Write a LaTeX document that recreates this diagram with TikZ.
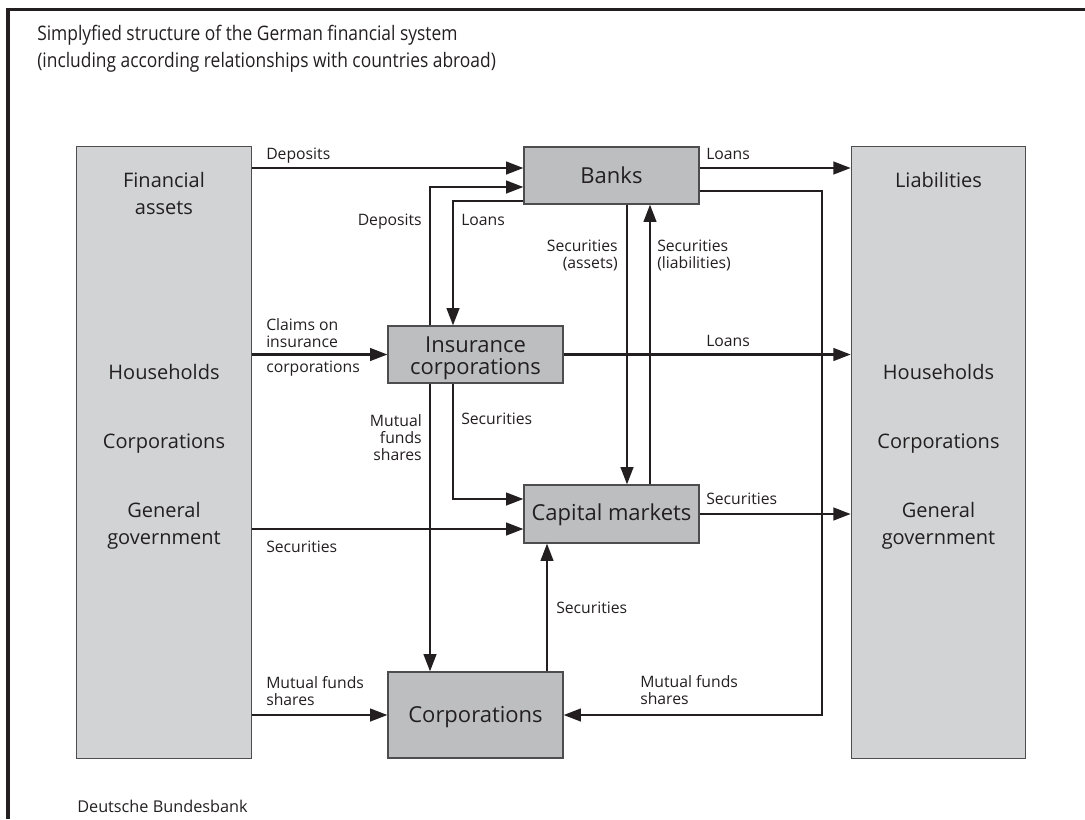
\documentclass[tikz,border=0pt]{standalone}
\usepackage{fontspec}
\setmainfont{Open Sans}
\newfontfamily\titlefont[FakeStretch=0.87]{Open Sans}
\usetikzlibrary{arrows.meta}

\definecolor{textgray}{HTML}{231F20}
\definecolor{sidefill}{HTML}{D1D3D4}
\definecolor{boxfill}{HTML}{BCBEC0}
\definecolor{boxline}{HTML}{4D4D4F}

\tikzstyle{sector} = [draw=boxline,line width=0.9pt,fill=sidefill,minimum width=130.8pt,minimum height=459pt,inner sep=0pt]
\tikzstyle{sectortext} = [font=\fontsize{15}{20}\selectfont,text=textgray,align=center,inner sep=0pt]
\tikzstyle{institution} = [draw=boxline,line width=0.9pt,fill=boxfill,minimum width=131.25pt,inner sep=0pt]
\tikzstyle{institutiontext} = [font=\fontsize{16.5}{16.5}\selectfont,text=textgray,align=center,inner sep=0pt]
\tikzstyle{flowlabel} = [font=\fontsize{11.8}{12.6}\selectfont,text=textgray,inner sep=0pt]
\tikzstyle{arrowdecorate} = [draw=textgray,line width=1.7pt,-{Triangle[length=13pt,width=9.5pt]}]

\begin{document}
\begin{tikzpicture}[x=0.75pt,y=-0.75pt]
    \useasboundingbox (0,0) rectangle (1085,819);
    %% frame and title
    \draw[textgray,line width=2.6pt] (8,819) -- (8,9.5) -- (1085,9.5);
    \node[anchor=base west,inner sep=0pt,text=textgray,align=left,
      font=\titlefont\fontsize{15}{20}\selectfont] (title) at (37,67)
      {Simplyfied structure of the German financial system\\(including according relationships with countries abroad)};
    \node[anchor=base west,inner sep=0pt,text=textgray,font=\fontsize{12.2}{14}\selectfont] (source) at (77,812) {Deutsche Bundesbank};

    %% sectors on both sides
    \node[sector] (assets) at (164,452.5) {};
    \node[sector] (liab) at (938.5,452.5) {};
    \foreach \nodename/\x/\y/\value in {
      afin/164/214/{Financial\\assets}, ahouse/164/379/Households, acorp/164/448/Corporations,
      agov/164/544/{General\\government},
      lliab/938.5/187/Liabilities, lhouse/938.5/379/Households, lcorp/938.5/448/Corporations,
      lgov/938.5/544/{General\\government}}
    {
      \node[sectortext,anchor=base] (\nodename) at (\x,\y) {\value};
    }

    %% institutions
    \foreach \nodename/\x/\y/\h/\basey/\value in {
      banks/611.5/175.5/42.75pt/183/Banks,
      ins/475.5/354.5/42.75pt/374/{Insurance\\corporations},
      cap/611.5/514/43.5pt/520/Capital markets,
      corps/475.5/715/64.5pt/722/Corporations}
    {
      \node[institution,minimum height=\h] (\nodename) at (\x,\y) {};
      \node[institutiontext,anchor=base] (\nodename text) at (\x,\basey) {\value};
    }

    %% rows and columns of the connectors
    \coordinate (rdep) at (0,168);
    \coordinate (rinsdep) at (0,187);
    \coordinate (rbankmf) at (0,191);
    \coordinate (rloan) at (0,201);
    \coordinate (rinssec) at (0,499);
    \coordinate (rgovsec) at (0,529);
    \coordinate (cdep) at (430,0);
    \coordinate (cloan) at (453,0);
    \coordinate (csecasset) at (627,0);
    \coordinate (cseclia) at (650,0);
    \coordinate (ccorpsec) at (547,0);
    \coordinate (cmf) at (822,0);

    %% edges
    \draw[arrowdecorate] (assets.east |- rdep) -- (banks.west |- rdep);
    \draw[arrowdecorate] (banks.east |- rdep) -- (liab.west |- rdep);
    \draw[arrowdecorate] (ins.north -| cdep) |- (banks.west |- rinsdep);
    \draw[arrowdecorate] (banks.west |- rloan) -| (ins.north -| cloan);
    \draw[arrowdecorate] (banks.south -| csecasset) -- (cap.north -| csecasset);
    \draw[arrowdecorate] (cap.north -| cseclia) -- (banks.south -| cseclia);
    \draw[arrowdecorate] (banks.east |- rbankmf) -| (corps.east -| cmf) -- (corps.east);
    \draw[arrowdecorate] (assets.east |- ins.west) -- (ins.west);
    \draw[arrowdecorate] (ins.east) -- (liab.west |- ins.east);
    \draw[arrowdecorate] (ins.south -| cdep) -- (corps.north -| cdep);
    \draw[arrowdecorate] (ins.south -| cloan) |- (cap.west |- rinssec);
    \draw[arrowdecorate] (assets.east |- rgovsec) -- (cap.west |- rgovsec);
    \draw[arrowdecorate] (cap.east) -- (liab.west |- cap.east);
    \draw[arrowdecorate] (corps.north -| ccorpsec) -- (cap.south -| ccorpsec);
    \draw[arrowdecorate] (assets.east |- corps.west) -- (corps.west);

    %% labels, left aligned (y is the baseline of the last line)
    \foreach \labname/\x/\y/\txt in {
      ldep/266/159/Deposits, lloan/706/159/Loans, lloanins/461/225/Loans,
      lseclia/657/268/{Securities\\(liabilities)}, lclaims/266/347/{Claims on\\insurance},
      lclaimsb/266/372/corporations, lloanliab/706/346/Loans, lsecins/461/424/Securities,
      lseccap/706/504/Securities, lsecgov/266/552/Securities, lseccorp/556/613/Securities,
      lmfleft/266/705/{Mutual funds\\shares}, lmfright/640/704/{Mutual funds\\shares}}
    {
      \node[flowlabel,anchor=base west,align=left] (\labname) at (\x,\y) {\txt};
    }
    %% labels, right aligned
    \foreach \labname/\x/\y/\txt in {
      ldepins/422/225/Deposits, lsecasset/618/268/{Securities\\(assets)},
      lmfins/422/460/{Mutual\\funds\\shares}}
    {
      \node[flowlabel,anchor=base east,align=right] (\labname) at (\x,\y) {\txt};
    }
\end{tikzpicture}
\end{document}
